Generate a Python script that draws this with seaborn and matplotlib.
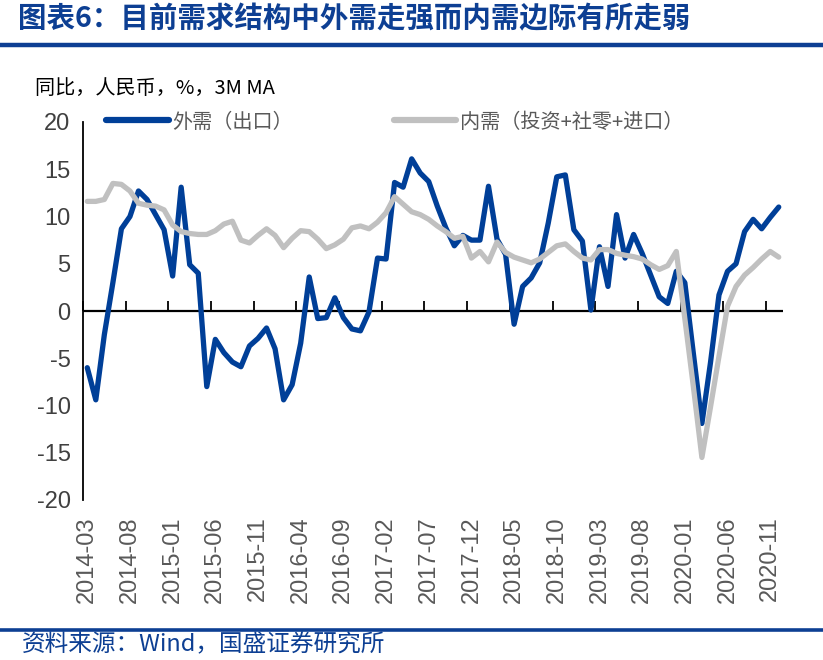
import numpy as np
import pandas as pd
import seaborn as sns
import matplotlib
matplotlib.use('Agg')
import matplotlib.pyplot as plt
from matplotlib.lines import Line2D

# 月度数据 2014-03 ~ 2020-12, 3M MA 同比
months = pd.period_range('2014-03', periods=82, freq='M').strftime('%Y-%m').tolist()

export_yoy = [-6.0, -9.4, -2.5, 3.0, 8.7, 10.0, 12.7, 11.8, 10.2, 8.6,
              3.7, 13.1, 4.9, 4.0, -8.0, -3.0, -4.4, -5.4, -5.9, -3.7,
              -2.9, -1.8, -4.0, -9.4, -7.8, -3.4, 3.6, -0.8, -0.7, 1.4,
              -0.7, -1.9, -2.1, -0.1, 5.6, 5.5, 13.6, 13.1, 16.1, 14.6,
              13.7, 11.1, 8.8, 6.9, 8.0, 7.5, 7.5, 13.2, 7.6, 6.0,
              -1.4, 2.6, 3.5, 5.1, 9.3, 14.2, 14.4, 8.6, 7.4, 0.1,
              6.8, 2.6, 10.2, 5.6, 8.1, 6.1, 3.8, 1.5, 0.8, 4.2,
              3.0, -4.5, -11.9, -5.5, 1.7, 4.2, 5.0, 8.4, 9.7, 8.7,
              9.9, 11.0]

domestic_yoy = [11.6, 11.6, 11.8, 13.5, 13.4, 12.7, 11.4, 11.2, 11.1, 10.7,
                9.1, 8.4, 8.2, 8.1, 8.1, 8.5, 9.2, 9.5, 7.5, 7.2,
                8.0, 8.7, 8.0, 6.7, 7.7, 8.5, 8.4, 7.6, 6.6, 7.0,
                7.6, 8.8, 9.0, 8.7, 9.4, 10.4, 12.1, 11.3, 10.5, 10.2,
                9.7, 9.0, 8.4, 7.7, 7.9, 5.6, 6.3, 5.2, 7.3, 6.2,
                5.7, 5.4, 5.1, 5.5, 6.2, 6.9, 7.1, 6.3, 5.6, 5.4,
                6.5, 6.5, 6.1, 5.9, 5.75, 5.5, 4.9, 4.4, 4.8, 6.3,
                -0.8, -8.0, -15.5, -10.2, -4.8, 0.5, 2.6, 3.8, 4.6, 5.5,
                6.3, 5.7]

series_names = ['外需（出口）', '内需（投资+社零+进口）']
y_ticks = [-20, -15, -10, -5, 0, 5, 10, 15, 20]

blue = '#003F98'
grey = '#C0C0C0'
cjk = ['Noto Sans CJK SC', 'DejaVu Sans']

df = pd.DataFrame({'idx': np.arange(len(months)), 'month': months,
                   series_names[0]: export_yoy, series_names[1]: domestic_yoy})
long = df.melt(id_vars=['idx', 'month'], var_name='series', value_name='value')

sns.set_style('white')
plt.rcParams['font.family'] = ['Liberation Sans', 'DejaVu Sans']

fig = plt.figure(figsize=(8.23, 6.6), dpi=100)
ax = fig.add_axes([83 / 823, 1 - 500 / 660, 700 / 823, 378 / 660])

# zero line (category axis crosses here)
ax.axhline(0, color='black', lw=1.6, zorder=1.5)

sns.lineplot(data=long, x='idx', y='value', hue='series', hue_order=series_names,
             palette=[blue, grey], linewidth=3.8, ax=ax, legend=False, zorder=2)

ax.set_xlim(-0.5, len(months) - 0.5)
ax.set_ylim(-20, 20)
ax.set_xlabel('')
ax.set_ylabel('')

# y axis
ax.set_yticks(y_ticks)
ax.set_yticklabels([str(v) for v in y_ticks], fontsize=17, color='#404040')
ax.tick_params(axis='y', direction='in', length=6, width=1.2, colors='black', pad=9)
for lab in ax.get_yticklabels():
    lab.set_color('#404040')
for s in ['top', 'right', 'bottom']:
    ax.spines[s].set_visible(False)
ax.spines['left'].set_linewidth(1.3)
ax.spines['left'].set_color('black')

# x labels at bottom
ax.set_xticks(df['idx'][::5])
ax.set_xticklabels(df['month'][::5], rotation=90, fontsize=17, color='#595959')
ax.tick_params(axis='x', length=0, pad=12)

# tick marks on the zero line, between categories
sec = ax.secondary_xaxis(0.5)
sec.set_xticks(np.arange(-0.5, len(months) - 1, 5))
sec.set_xticklabels([])
sec.tick_params(axis='x', direction='out', length=7.5, width=1.3, colors='black',
                labelbottom=False, labeltop=False)
for s in ['top', 'bottom', 'left', 'right']:
    sec.spines[s].set_visible(False)

# legend
handles = [Line2D([0], [0], color=blue, lw=4.5, solid_capstyle='round'),
           Line2D([0], [0], color=grey, lw=4.5, solid_capstyle='round')]
leg = ax.legend(handles, series_names, loc='center left', bbox_to_anchor=(0.033, 1.0),
                ncol=2, frameon=False, handlelength=3.1, handletextpad=0.2,
                columnspacing=5.0, borderpad=0, borderaxespad=0,
                prop={'family': cjk, 'size': 14.5})
for t in leg.get_texts():
    t.set_color('#595959')

fig.text(35 / 823, 1 - 88 / 660, '同比，人民币，%，3M MA', family=cjk, fontsize=14.5,
         color='black', va='center', ha='left')

# title and footer
fig.text(18 / 823, 1 - 19 / 660, '图表6：目前需求结构中外需走强而内需边际有所走弱', family=cjk,
         fontsize=20.5, fontweight='bold', color='#0D3F93', va='center', ha='left')
fig.add_artist(Line2D([0, 1], [1 - 45 / 660] * 2, color='#0D3F93', lw=3.2))
fig.add_artist(Line2D([0, 1], [1 - 630 / 660] * 2, color='#0D3F93', lw=2.6))
fig.text(22 / 823, 1 - 645 / 660, '资料来源：Wind，国盛证券研究所', family=cjk,
         fontsize=17, color='#0D3F93', va='center', ha='left')

fig.savefig('out.png', dpi=100)
